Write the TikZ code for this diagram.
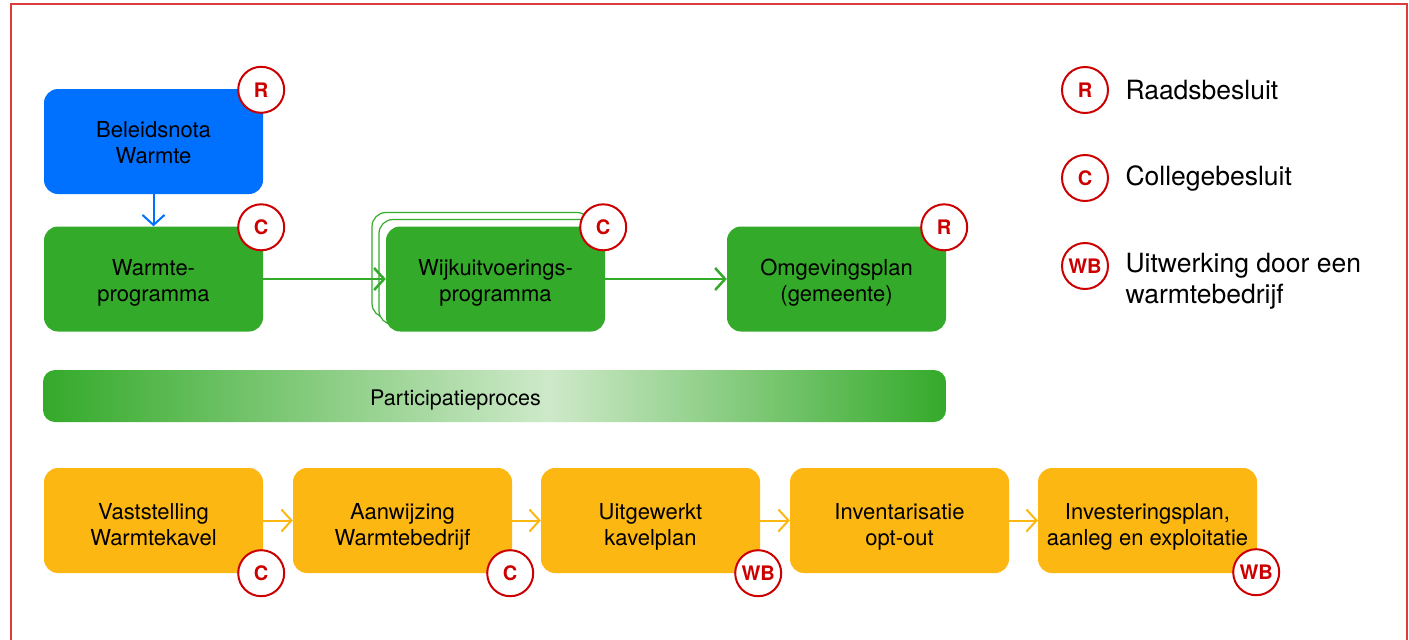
\documentclass[tikz,border=0pt]{standalone}
\usepackage{fontspec}
\setmainfont{TeX Gyre Heros}
\usetikzlibrary{arrows.meta, positioning}

\definecolor{nota}{RGB}{0,112,255}
\definecolor{groen}{RGB}{52,170,42}
\definecolor{lichtgroen}{RGB}{206,233,201}
\definecolor{oranje}{RGB}{253,183,18}
\definecolor{rood}{RGB}{204,0,0}
\definecolor{kader}{RGB}{222,60,60}

\pgfdeclarehorizontalshading{participatie}{100bp}{color(0bp)=(groen); color(25bp)=(groen); color(53bp)=(lichtgroen); color(75bp)=(groen); color(100bp)=(groen)}

\tikzset{
	stap/.style={rounded corners=14pt, minimum width=219pt, minimum height=105pt, inner sep=0pt, align=center, text height=44.4pt, text depth=0pt, font=\fontsize{22}{26}\selectfont},
	onder/.style={stap, fill=oranje, text height=50.4pt},
	badge/.style={circle, draw=rood, line width=2pt, fill=white, minimum size=46pt, inner sep=0pt, text=rood, font=\fontsize{20}{20}\selectfont\bfseries},
	pijl/.style={line width=2.5pt, -{Straight Barb[length=10pt,width=22pt]}},
	legenda/.style={anchor=west, align=left, font=\fontsize{26.5}{31}\selectfont},
}

\begin{document}
\begin{tikzpicture}[x=1pt, y=-1pt]
		\useasboundingbox (0,0) rectangle (1409,640);
		\draw[kader, line width=2pt] (11,640) -- (11,4) -- (1407,4) -- (1407,640);

		\node[stap, fill=nota] (beleid) at (153.5,141.5) {Beleidsnota\\Warmte};
		\node[stap, fill=groen] (warmte) at (153.5,279) {Warmte-\\programma};
		\node[stap, draw=groen, fill=white, line width=1.2pt] (wijk2) at (481.5,265) {};
		\node[stap, draw=groen, fill=white, line width=1.2pt] (wijk1) at (488.5,272) {};
		\node[stap, fill=groen] (wijk) at (495.5,279) {Wijkuitvoerings-\\programma};
		\node[stap, fill=groen] (omgeving) at (836.5,279) {Omgevingsplan\\(gemeente)};

		\draw[pijl, nota, line width=2pt] (beleid) -- (warmte);
		\draw[pijl, groen] (warmte) -- (wijk);
		\draw[pijl, groen] (wijk) -- (omgeving);

		\node[badge] at ([xshift=-2pt, yshift=-1pt]beleid.north east) {R};
		\node[badge] at ([xshift=-2pt, yshift=-1pt]warmte.north east) {C};
		\node[badge] at ([xshift=-2pt, yshift=-1pt]wijk.north east) {C};
		\node[badge] at ([xshift=-2pt, yshift=-1pt]omgeving.north east) {R};

		\node[rounded corners=12pt, minimum width=903pt, minimum height=52pt, shading=participatie] (proces) at (494.5,396) {};
		\node[font=\fontsize{21.5}{24}\selectfont] at ([xshift=-39pt, yshift=-4pt]proces.center) {Participatieproces};

		\node[onder] (kavel) at (153.5,520.5) {Vaststelling\\Warmtekavel};
		\node[onder] (aanwijzing) at (402.5,520.5) {Aanwijzing\\Warmtebedrijf};
		\node[onder] (kavelplan) at (650.5,520.5) {Uitgewerkt\\kavelplan};
		\node[onder] (optout) at (899.5,520.5) {Inventarisatie\\opt-out};
		\node[onder] (investering) at (1147.5,520.5) {Investeringsplan,\\aanleg en exploitatie};

		\draw[pijl, oranje, line width=2pt] (kavel) -- (aanwijzing);
		\draw[pijl, oranje, line width=2pt] (aanwijzing) -- (kavelplan);
		\draw[pijl, oranje, line width=2pt] (kavelplan) -- (optout);
		\draw[pijl, oranje, line width=2pt] (optout) -- (investering);

		\node[badge] at ([xshift=-2pt]kavel.south east) {C};
		\node[badge] at ([xshift=-2pt]aanwijzing.south east) {C};
		\node[badge] at ([xshift=-2pt]kavelplan.south east) {WB};
		\node[badge] at ([xshift=-1pt, yshift=1pt]investering.south east) {WB};

		\node[badge] (raad) at (1085,90) {R};
		\node[badge] (college) at (1085,178) {C};
		\node[badge] (bedrijf) at (1085,266) {WB};
		\node[legenda] at (1122,90) {Raadsbesluit};
		\node[legenda] at (1122,178) {Collegebesluit};
		\node[legenda] at (1122,281.5) {Uitwerking door een\\warmtebedrijf};
	\end{tikzpicture}
\end{document}
